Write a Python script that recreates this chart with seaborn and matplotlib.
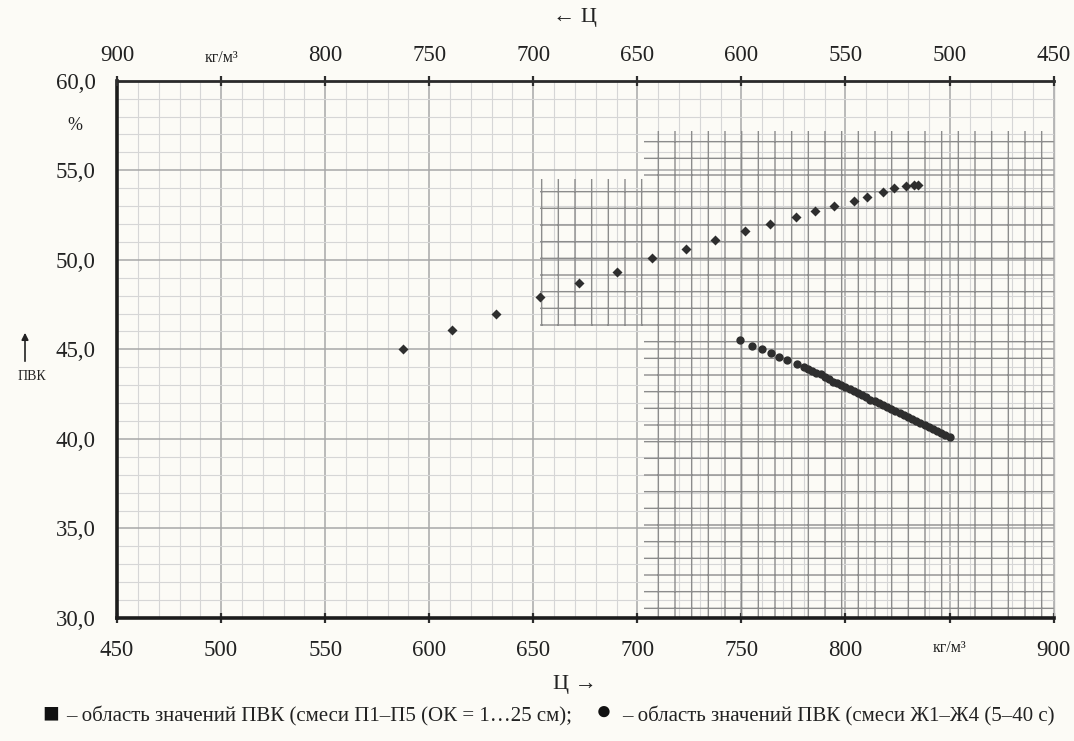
import numpy as np
import matplotlib.pyplot as plt
import seaborn as sns
from matplotlib.ticker import MultipleLocator

# rising series, read against the top (reversed) Ц axis
top_cement = [762.5, 739, 718, 697, 678, 660, 643, 626.5, 612.5, 598.5, 586.5,
              574, 564.5, 555.5, 546, 539.5, 532, 526.5, 521, 517, 515]
top_pvk = [45.0, 46.1, 47.0, 47.9, 48.7, 49.3, 50.1, 50.6, 51.1, 51.6, 52.0,
           52.4, 52.7, 53.0, 53.3, 53.5, 53.8, 54.0, 54.1, 54.2, 54.2]

# falling series, read against the bottom Ц axis
bot_cement = [749.5, 755, 760, 764, 768, 772, 776.5, 780,
              782, 784, 786, 788, 790, 792, 794, 796, 798, 800, 802, 804,
              806, 808, 810, 812, 814, 816, 818, 820, 822, 824, 826, 828,
              830, 832, 834, 836, 838, 840, 842, 844, 846, 848, 850]
bot_pvk = [45.5, 45.2, 45.0, 44.8, 44.6, 44.4, 44.2, 44.0,
           43.9, 43.8, 43.7, 43.6, 43.45, 43.35, 43.2, 43.1, 43.0, 42.9, 42.8, 42.65,
           42.55, 42.45, 42.35, 42.2, 42.1, 42.0, 41.9, 41.8, 41.65, 41.55, 41.45, 41.35,
           41.2, 41.1, 41.0, 40.9, 40.8, 40.65, 40.55, 40.45, 40.35, 40.2, 40.1]

# shaded area (scanned square marks), bottom axis coords
area_x = [703, 703, 653, 653, 703, 703, 900, 900]
area_y = [30, 46.3, 46.3, 54.5, 54.5, 57.2, 57.2, 30]

x_ticks = [450, 500, 550, 600, 650, 700, 750, 800, 850, 900]
y_ticks = [30, 35, 40, 45, 50, 55, 60]
unit = "кг/м³"

sns.set_theme(style="white")
plt.rcParams['font.family'] = ['Liberation Serif', 'DejaVu Sans']
plt.rcParams['hatch.linewidth'] = 1.0

paper = "#fcfbf6"
ink = "#2e2e2e"
txt = "#222222"

fig = plt.figure(figsize=(10.74, 7.41), dpi=100, facecolor=paper)
ax = fig.add_axes([0.109, 0.166, 0.872, 0.725], facecolor=paper)

ax.fill(area_x, area_y, facecolor="none", edgecolor="#8c8c8c", hatch="+",
        linewidth=0, zorder=1)

sns.scatterplot(x=bot_cement, y=bot_pvk, ax=ax, marker="o", s=36,
                color=ink, linewidth=0, zorder=4)

ax.set_xlim(450, 900)
ax.set_ylim(30, 60)
ax.set_xticks(x_ticks)
ax.set_xticklabels([unit if v == 850 else str(v) for v in x_ticks])
ax.set_yticks(y_ticks)
ax.set_yticklabels([f"{v:.1f}".replace(".", ",") for v in y_ticks])
ax.xaxis.set_minor_locator(MultipleLocator(10))
ax.yaxis.set_minor_locator(MultipleLocator(1))
ax.grid(which="major", color="#a8a8a8", linewidth=1.1)
ax.grid(which="minor", color="#d6d6d6", linewidth=0.8)
ax.set_axisbelow(True)
ax.tick_params(which="major", direction="inout", length=7, width=1.6,
               color=ink, labelsize=16.5, labelcolor=txt)
ax.tick_params(axis="x", pad=12)
ax.tick_params(axis="y", pad=12)
ax.tick_params(which="minor", length=0)
for lbl in ax.get_xticklabels():
    if lbl.get_text() == unit:
        lbl.set_fontsize(11.5)

for side, lw, col in [("left", 2.6, "#1c1c1c"), ("bottom", 2.6, "#1c1c1c"),
                      ("top", 2.0, "#2a2a2a"), ("right", 1.0, "#b5b5b5")]:
    ax.spines[side].set_visible(True)
    ax.spines[side].set_linewidth(lw)
    ax.spines[side].set_color(col)

# top axis, reversed
ax2 = ax.twiny()
sns.scatterplot(x=top_cement, y=top_pvk, ax=ax2, marker="D", s=26,
                color=ink, linewidth=0, zorder=4)
ax2.set_xlim(900, 450)
ax2.set_ylim(30, 60)
ax2.set_xticks(x_ticks)
ax2.set_xticklabels([unit if v == 850 else str(v) for v in x_ticks])
ax2.tick_params(which="major", direction="inout", length=7, width=1.6,
                color=ink, labelsize=16.5, labelcolor=txt, pad=7)
for lbl in ax2.get_xticklabels():
    if lbl.get_text() == unit:
        lbl.set_fontsize(11.5)
for s in ax2.spines.values():
    s.set_visible(False)
ax2.grid(False)

# axis captions
fig.text(0.535, 1 - 685 / 741, "Ц →", fontsize=16, ha="center", va="center", color=txt)
fig.text(0.535, 0.976, "← Ц", fontsize=16, ha="center", va="center", color=txt)
fig.text(75 / 1074, 1 - 125 / 741, "%", fontsize=13, ha="center", va="center", color=txt)
fig.text(32 / 1074, 1 - 377 / 741, "ПВК", fontsize=10, ha="center", va="center", color=txt)
ax.annotate("", xy=(25 / 1074, 1 - 330 / 741), xytext=(25 / 1074, 1 - 364 / 741),
            xycoords="figure fraction", textcoords="figure fraction",
            arrowprops=dict(arrowstyle="-|>", color=txt, lw=1.2,
                            mutation_scale=10))

# legend line
fig.text(42 / 1074, 1 - 715 / 741, "■", fontsize=20, ha="left", va="center", color="#111111")
fig.text(66 / 1074, 1 - 716 / 741, "– область значений ПВК (смеси П1–П5 (ОК = 1…25 см);",
         fontsize=15, ha="left", va="center", color=txt)
fig.text(596 / 1074, 1 - 713 / 741, "●", fontsize=19, ha="left", va="center", color="#111111")
fig.text(622 / 1074, 1 - 716 / 741, "– область значений ПВК (смеси Ж1–Ж4 (5–40 с)",
         fontsize=15, ha="left", va="center", color=txt)

fig.savefig("out.png", dpi=100, facecolor=paper)
